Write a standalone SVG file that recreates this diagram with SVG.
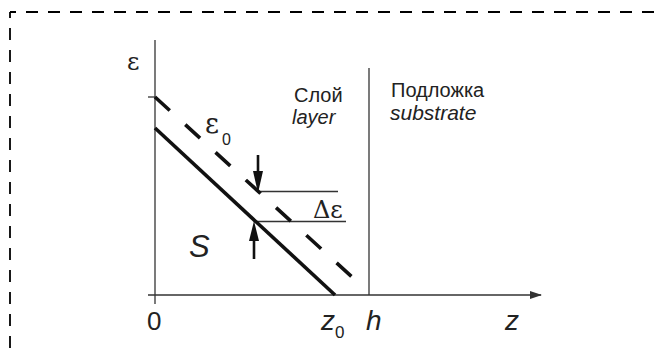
<svg xmlns="http://www.w3.org/2000/svg" width="658" height="354" viewBox="0 0 658 354">
<style>
.thin{stroke:#333;stroke-width:1.3;fill:none}
.thick{stroke:#111;stroke-width:3.6;fill:none}
.border{stroke:#000;stroke-width:1.8;fill:none;stroke-dasharray:12 10;stroke-dashoffset:6}
.sans{font-family:"Liberation Sans",Arial,sans-serif;fill:#222}
.serif{font-family:"DejaVu Serif","Liberation Serif",serif;fill:#222}
.it{font-style:italic}
</style>
<defs>
<marker id="ah" markerWidth="12" markerHeight="8" refX="11" refY="4" orient="auto" markerUnits="userSpaceOnUse">
<path d="M0,0 L12,4 L0,8 Z" fill="#333"/>
</marker>
</defs>
<rect width="658" height="354" fill="#fff"/>
<g id="frame">
<line class="border" x1="10" y1="12" x2="658" y2="12"/>
<line class="border" x1="10" y1="12" x2="10" y2="354"/>
</g>
<g id="axes">
<line class="thin" x1="155" y1="40" x2="155" y2="304"/>
<line class="thin" x1="148" y1="295" x2="541" y2="295" marker-end="url(#ah)"/>
<line class="thin" x1="148" y1="97" x2="155" y2="97"/>
<line class="thin" x1="369" y1="68" x2="369" y2="295"/>
<line class="thin" x1="258" y1="191.5" x2="338" y2="191.5"/>
<line class="thin" x1="254" y1="221.5" x2="346" y2="221.5"/>
</g>
<g id="curves">
<line class="thick" x1="155" y1="128" x2="335" y2="295"/>
<line class="thick" x1="155" y1="97" x2="352" y2="277" stroke-dasharray="20 21"/>
</g>
<g id="arrows">
<line stroke="#111" stroke-width="2.6" x1="258" y1="155" x2="258" y2="176"/>
<path d="M253,171 L263,171 L258,193 Z" fill="#111"/>
<line stroke="#111" stroke-width="2.6" x1="254" y1="236" x2="254" y2="259"/>
<path d="M249,241 L259,241 L254,221 Z" fill="#111"/>
</g>
<g id="labels">
<text class="serif" x="127" y="70" font-size="24">ε</text>
<text class="serif" x="205" y="133" font-size="27">ε</text>
<text class="sans" x="222" y="145" font-size="16">0</text>
<text class="serif" x="313" y="218" font-size="24">Δε</text>
<text class="sans" x="294" y="102" font-size="20">Слой</text>
<text class="sans it" x="292" y="124" font-size="20">layer</text>
<text class="sans" x="391" y="97" font-size="20">Подложка</text>
<text class="sans it" x="390" y="120" font-size="21">substrate</text>
<text class="sans it" x="189" y="257" font-size="31">S</text>
<text class="sans" x="147" y="330" font-size="26">0</text>
<text class="sans it" x="321" y="330" font-size="28">z</text>
<text class="sans" x="335" y="338" font-size="17">0</text>
<text class="sans it" x="366" y="330" font-size="28">h</text>
<text class="sans it" x="505" y="330" font-size="28">z</text>
</g>
</svg>
